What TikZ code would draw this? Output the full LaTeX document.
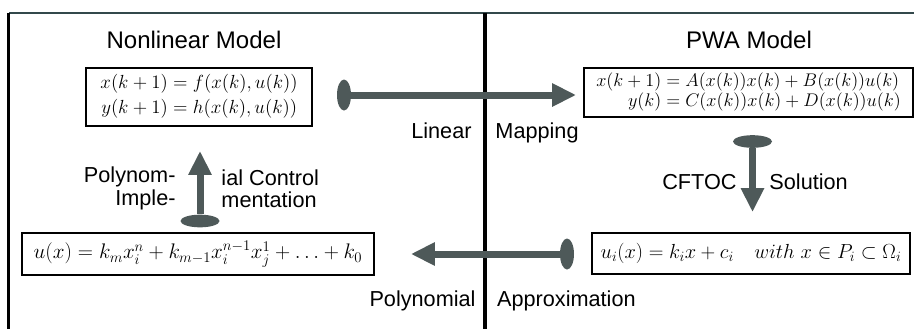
\RequirePackage{fix-cm}
\documentclass[tikz,border=0pt]{standalone}
\usepackage{amsmath}
\usepackage{amssymb}
\usepackage{fontspec}
\newfontfamily\lblfont{Liberation Sans}
\usepackage{tikz}
\usetikzlibrary{arrows.meta,positioning,shapes.geometric,calc}
\definecolor{arrowgray}{HTML}{4E5959}
\definecolor{framegray}{HTML}{33484B}

\begin{document}
\begin{tikzpicture}[
  thick,
  eqbox/.style={draw, line width=1.6pt, inner sep=2pt, align=center},
  ttl/.style={font=\lblfont\fontsize{20.5}{24}\selectfont},
  lbl/.style={font=\lblfont\fontsize{18.5}{19}\selectfont, inner sep=0pt},
  tailh/.style={ellipse, fill=arrowgray, inner sep=0pt, minimum width=0.42cm, minimum height=0.93cm},
  tailv/.style={ellipse, fill=arrowgray, inner sep=0pt, minimum width=1.17cm, minimum height=0.38cm},
  fat/.style={draw=arrowgray, line width=0.21cm, -{Triangle[length=0.72cm, width=0.66cm]}}]
\useasboundingbox (0,0) rectangle (27.42,-9.87);
\draw[framegray, line width=1.8pt] (27.42,-0.385) -- (0.26,-0.385);
\draw[line width=2pt] (0.26,-0.385) -- (0.26,-9.87);
\draw[line width=0.12cm] (14.55,-0.385) -- (14.55,-9.87);
\node[ttl] (nltitle)  at (5.82,-1.19)  {Nonlinear Model};
\node[ttl] (pwatitle) at (22.47,-1.19) {PWA Model};
\node[eqbox, minimum width=6.78cm, minimum height=1.74cm, font=\fontsize{16.2}{18.3}\selectfont] (nl) at (5.97,-2.91)
  {$\begin{aligned} x(k+1) &= f(x(k),u(k))\\ y(k+1) &= h(x(k),u(k)) \end{aligned}$};
\node[eqbox, minimum width=9.87cm, minimum height=1.47cm, font=\fontsize{15.6}{14}\selectfont] (pwa) at (22.455,-2.775)
  {\setlength\jot{0pt}$\begin{aligned} x(k+1) &= A(x(k))x(k)+B(x(k))u(k)\\ y(k) &= C(x(k))x(k)+D(x(k))u(k) \end{aligned}$};
\node[eqbox, minimum width=9.54cm, minimum height=1.23cm, font=\fontsize{17.4}{18}\selectfont] (pwactl) at (22.53,-7.605)
  {$u_i(x) = k_i x + c_i \quad with\ x \in P_i \subset \Omega_i$};
\node[eqbox, minimum width=10.56cm, minimum height=1.26cm, font=\fontsize{18}{19}\selectfont] (poly) at (5.94,-7.62)
  {$u(x) = k_m x_i^n + k_{m-1} x_i^{n-1} x_j^1 + \ldots + k_0$};
\node[tailh] (lmtail) at (10.32,-2.85)  {};
\node[tailv] (cftail) at (22.575,-4.245) {};
\node[tailh] (patail) at (17.01,-7.62)  {};
\node[tailv] (pitail) at (6.0,-6.63)    {};
\draw[fat, shorten >=0.21cm] (lmtail) -- (lmtail -| pwa.west);
\draw[fat, shorten >=0.6cm]  (cftail) -- (cftail |- pwactl.north);
\draw[fat, shorten >=1.08cm] (patail) -- (patail -| poly.east);
\draw[fat, shorten >=0.72cm] (pitail) -- (pitail |- nl.south);
\node[lbl, anchor=base east] (lin)   at (14.16,-4.14) {Linear};
\node[lbl, anchor=base west] (map)   at (14.85,-4.14) {Mapping};
\node[lbl, anchor=base east] (cftoc) at (22.11,-5.67) {CFTOC};
\node[lbl, anchor=base west] (sol)   at (23.07,-5.67) {Solution};
\node[lbl, anchor=base east] (pol)   at (14.28,-9.18) {Polynomial};
\node[lbl, anchor=base west] (appr)  at (14.9,-9.18)  {Approximation};
\node[lbl, anchor=east, align=right] (impl) at (5.28,-5.655) {Polynom-\\Imple-};
\node[lbl, anchor=west, align=left]  (ctrl) at (6.63,-5.655) {ial Control\\mentation};
\end{tikzpicture}
\end{document}
